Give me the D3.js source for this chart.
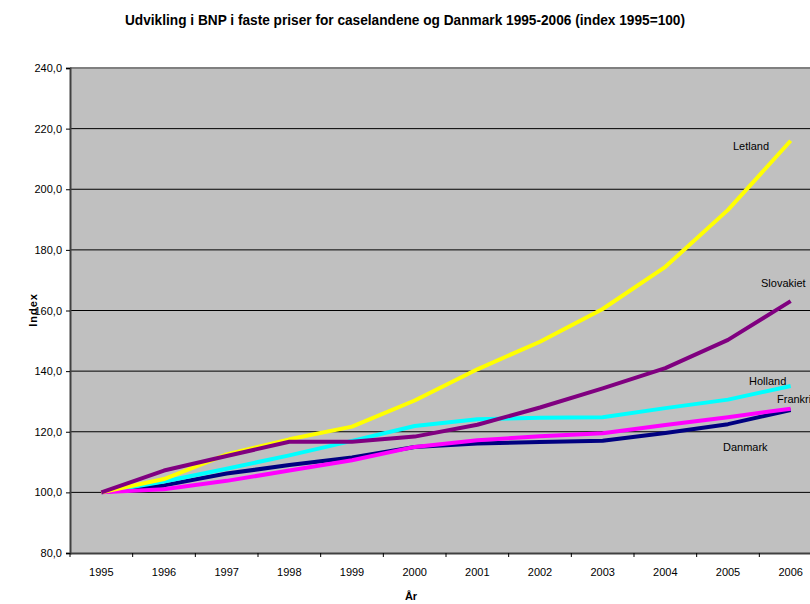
<!DOCTYPE html>
<html>
<head>
<meta charset="utf-8">
<style>
  body { margin: 0; background: #fff; }
  svg { font-family: "Liberation Sans", Arial, sans-serif; }
</style>
</head>
<body>
<svg width="810" height="604"></svg>
<script src="https://d3js.org/d3.v7.min.js"></script>
<script>

const years = ["1995", "1996", "1997", "1998", "1999", "2000", "2001", "2002", "2003", "2004", "2005", "2006"];

const danmark   = [100, 102.3, 106.2, 109.0, 111.5, 115.0, 116.1, 116.6, 117.0, 119.6, 122.5, 127.2];
const holland   = [100, 103.6, 107.8, 112.2, 117.0, 121.9, 124.1, 124.6, 124.8, 127.8, 130.6, 135.1];
const frankrig  = [100, 101.0, 103.8, 107.2, 110.6, 115.0, 117.2, 118.5, 119.5, 122.2, 124.8, 127.6];
const letland   = [100, 104.4, 112.5, 117.5, 121.7, 130.3, 140.6, 149.7, 160.5, 174.4, 193.2, 216.0];
const slovakiet = [100, 107.2, 112.0, 116.7, 116.7, 118.4, 122.3, 128.0, 134.3, 141.0, 150.3, 163.1];

const yTicks = [80, 100, 120, 140, 160, 180, 200, 220, 240];

const series = [
  { name: "Danmark",   values: danmark,   color: "#000080", lx: 723, ly: 451 },
  { name: "Holland",   values: holland,   color: "#00ffff", lx: 749, ly: 385 },
  { name: "Frankrig",  values: frankrig,  color: "#ff00ff", lx: 777, ly: 403 },
  { name: "Letland",   values: letland,   color: "#ffff00", lx: 733, ly: 150 },
  { name: "Slovakiet", values: slovakiet, color: "#800080", lx: 761, ly: 287 }
];

const svg = d3.select("svg");

const plotLeft = 70, plotTop = 68, plotBottom = 553, plotRight = 822;

const x = d3.scaleBand().domain(years).range([plotLeft, plotRight]).padding(0);
const y = d3.scaleLinear().domain([80, 240]).range([plotBottom, plotTop]);
const cx = d => x(d) + x.bandwidth() / 2;

// plot background
svg.append("rect")
  .attr("x", plotLeft).attr("y", plotTop)
  .attr("width", plotRight - plotLeft).attr("height", plotBottom - plotTop)
  .attr("fill", "#c0c0c0");

// gridlines
svg.append("g")
  .selectAll("line")
  .data(yTicks.filter(v => v > 80 && v < 240))
  .enter()
  .append("line")
  .attr("x1", plotLeft).attr("x2", plotRight)
  .attr("y1", d => y(d)).attr("y2", d => y(d))
  .attr("stroke", "#000")
  .attr("stroke-width", 1);

// top border
svg.append("line")
  .attr("x1", plotLeft).attr("x2", plotRight)
  .attr("y1", plotTop).attr("y2", plotTop)
  .attr("stroke", "#808080")
  .attr("stroke-width", 2);

// y axis
const yAxis = svg.append("g")
  .attr("transform", `translate(${plotLeft},0)`)
  .call(d3.axisLeft(y)
    .tickValues(yTicks)
    .tickSize(4)
    .tickPadding(4)
    .tickFormat(d => d.toFixed(1).replace(".", ",")));
yAxis.select(".domain").attr("stroke", "#404040").attr("stroke-width", 2);
yAxis.selectAll(".tick line").attr("stroke", "#000");
yAxis.selectAll("text").attr("font-size", 11).attr("fill", "#000")
  .attr("font-family", "Liberation Sans, Arial, sans-serif");

// x axis
const xAxis = svg.append("g")
  .attr("transform", `translate(0,${plotBottom})`)
  .call(d3.axisBottom(x).tickSize(0).tickPadding(15));
xAxis.select(".domain").attr("stroke", "#404040").attr("stroke-width", 2);
xAxis.selectAll("text").attr("font-size", 11).attr("fill", "#000")
  .attr("font-family", "Liberation Sans, Arial, sans-serif");
xAxis.selectAll("line.sep")
  .data(years)
  .enter()
  .append("line")
  .attr("class", "sep")
  .attr("x1", d => x(d)).attr("x2", d => x(d))
  .attr("y1", 0).attr("y2", 4)
  .attr("stroke", "#000");

// series lines
const line = d3.line()
  .x((d, i) => cx(years[i]))
  .y(d => y(d));

svg.append("g")
  .selectAll("path")
  .data(series)
  .enter()
  .append("path")
  .attr("d", d => line(d.values))
  .attr("fill", "none")
  .attr("stroke", d => d.color)
  .attr("stroke-width", 4)
  .attr("stroke-linejoin", "round");

// series labels
svg.append("g")
  .selectAll("text")
  .data(series)
  .enter()
  .append("text")
  .attr("x", d => d.lx)
  .attr("y", d => d.ly)
  .attr("font-size", 11)
  .text(d => d.name);

// titles
svg.append("text")
  .attr("x", 405).attr("y", 25)
  .attr("text-anchor", "middle")
  .attr("font-size", 14)
  .attr("font-weight", "bold")
  .attr("textLength", 560)
  .attr("lengthAdjust", "spacingAndGlyphs")
  .text("Udvikling i BNP i faste priser for caselandene og Danmark 1995-2006 (index 1995=100)");

svg.append("text")
  .attr("transform", "translate(37,310) rotate(-90)")
  .attr("text-anchor", "middle")
  .attr("font-size", 11)
  .attr("font-weight", "bold")
  .attr("letter-spacing", 1)
  .text("Index");

svg.append("text")
  .attr("x", 411).attr("y", 600)
  .attr("text-anchor", "middle")
  .attr("font-size", 11)
  .attr("font-weight", "bold")
  .text("År");

</script>
</body>
</html>
